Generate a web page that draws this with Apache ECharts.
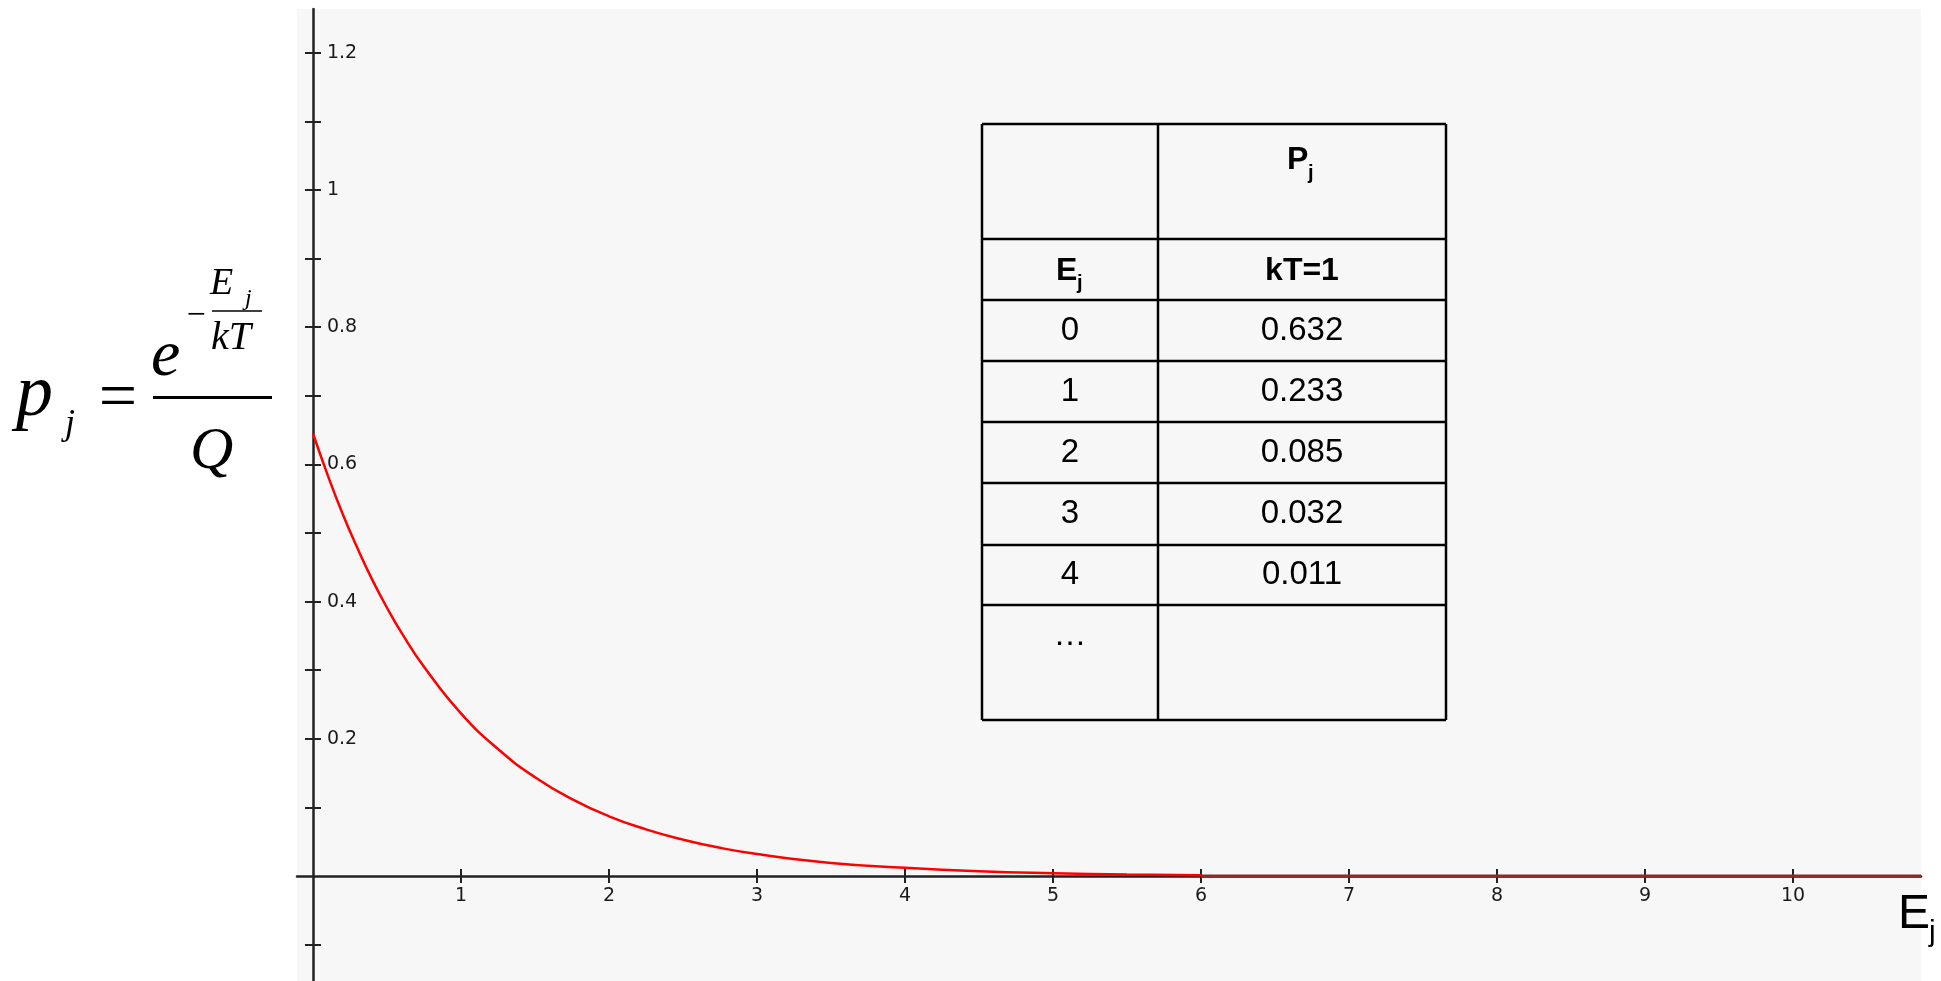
<!DOCTYPE html>
<html><head><meta charset="utf-8">
<script src="https://cdn.jsdelivr.net/npm/echarts@6/dist/echarts.min.js"></script>
<style>html,body{margin:0;padding:0;background:#fff}#c{width:1941px;height:981px}</style>
</head><body><div id="c"></div>
<script>
// ---- data ----
const curveE = [0, 0.1, 0.2, 0.3, 0.4, 0.5, 0.6, 0.75, 1, 1.25, 1.5, 1.75, 2, 2.25, 2.5, 2.75, 3, 3.5, 4, 4.5, 5, 5.5, 6];
const curveP = [0.645, 0.584, 0.528, 0.478, 0.432, 0.391, 0.354, 0.305, 0.237, 0.185, 0.144, 0.112, 0.087, 0.068, 0.053, 0.041, 0.032, 0.019, 0.012, 0.007, 0.004, 0.002, 0.001];
const tailE = [6, 10.865];
const tailP = [0, 0];
const xTickValues = [1, 2, 3, 4, 5, 6, 7, 8, 9, 10];
const xLabelValues = [1, 2, 3, 4, 5, 6, 7, 8, 9, 10];
const yTickValues = [-0.1, 0.1, 0.2, 0.3, 0.4, 0.5, 0.6, 0.7, 0.8, 0.9, 1, 1.1, 1.2];
const yLabelValues = [0.2, 0.4, 0.6, 0.8, 1, 1.2];
const tableHeaderP = 'P';
const tableHeaderSub = 'j';
const tableHeaderE = 'E';
const tableHeaderKT = 'kT=1';
const tableEnergies = ['0', '1', '2', '3', '4', '…'];
const tableProbabilities = ['0.632', '0.233', '0.085', '0.032', '0.011', ''];
const axisNameMain = 'E';
const axisNameSub = 'j';

// ---- layout ----
const CW = 1941, CH = 981;
const X_MIN = -0.108, X_MAX = 10.865, Y_MIN = -0.1531, Y_MAX = 1.2638;
const GRID_L = 297, GRID_R = 20, GRID_T = 9, GRID_B = 0;
const GW = CW - GRID_L - GRID_R, GH = CH - GRID_T - GRID_B;
const zeroX = GRID_L + (0 - X_MIN) / (X_MAX - X_MIN) * GW;
const zeroY = GRID_T + (Y_MAX - 0) / (Y_MAX - Y_MIN) * GH;

const tblLeft = 982, tblMid = 1158, tblRight = 1446;
const rowLines = [124, 239, 300, 361, 422, 483, 545, 605, 720];
const serif = 'Liberation Serif';
const sans = 'Liberation Sans';

const chart = echarts.init(document.getElementById('c'));

function txt(x, y, text, opt) {
  return {
    type: 'text', x: x, y: y, z: 10,
    style: Object.assign({
      text: text, fill: '#000', fontFamily: sans, fontSize: 32,
      textAlign: 'left', textVerticalAlign: 'middle', verticalAlign: 'middle'
    }, opt)
  };
}
function ln(x1, y1, x2, y2, w) {
  return { type: 'line', z: 10, shape: { x1: x1, y1: y1, x2: x2, y2: y2 }, style: { stroke: '#000', lineWidth: w } };
}

const graphics = [];
// table grid lines
rowLines.forEach(function (y) { graphics.push(ln(tblLeft, y, tblRight, y, 2.5)); });
graphics.push(ln(tblLeft, rowLines[0], tblLeft, rowLines[rowLines.length - 1], 2.5));
graphics.push(ln(tblMid, rowLines[0], tblMid, rowLines[rowLines.length - 1], 2.5));
graphics.push(ln(tblRight, rowLines[0], tblRight, rowLines[rowLines.length - 1], 2.5));
// table header
graphics.push(txt(1287, 160, tableHeaderP, { fontWeight: 'bold', fontSize: 32 }));
graphics.push(txt(1308, 173, tableHeaderSub, { fontWeight: 'bold', fontSize: 20 }));
graphics.push(txt(1056, 271, tableHeaderE, { fontWeight: 'bold', fontSize: 32 }));
graphics.push(txt(1077, 283, tableHeaderSub, { fontWeight: 'bold', fontSize: 20 }));
graphics.push(txt((tblMid + tblRight) / 2, 271, tableHeaderKT, { fontWeight: 'bold', fontSize: 32, textAlign: 'center' }));
// table body
tableEnergies.forEach(function (e, i) {
  const top = rowLines[i + 2], bot = rowLines[i + 3];
  const last = i === tableEnergies.length - 1;
  const cy = last ? 636 : (top + bot) / 2;
  graphics.push(txt((tblLeft + tblMid) / 2, cy, e, { fontSize: 33, textAlign: 'center' }));
  if (tableProbabilities[i]) graphics.push(txt((tblMid + tblRight) / 2, cy, tableProbabilities[i], { fontSize: 33, textAlign: 'center' }));
});
// formula  p_j = e^(-E_j/kT) / Q
const it = { fontFamily: serif, fontStyle: 'italic' };
graphics.push(txt(16, 396, 'p', Object.assign({ fontSize: 74 }, it)));
graphics.push(txt(65, 425, 'j', Object.assign({ fontSize: 36 }, it)));
graphics.push(txt(118, 400, '=', { fontFamily: serif, fontSize: 68, textAlign: 'center' }));
graphics.push(ln(153, 397.5, 272, 397.5, 3));
graphics.push(txt(151, 358, 'e', Object.assign({ fontSize: 66 }, it)));
graphics.push(txt(196, 316, '−', { fontFamily: serif, fontSize: 34, textAlign: 'center' }));
graphics.push(ln(212, 311, 262, 311, 1.5));
graphics.push(txt(210, 284, 'E', Object.assign({ fontSize: 38 }, it)));
graphics.push(txt(245, 299, 'j', Object.assign({ fontSize: 24 }, it)));
graphics.push(txt(211, 338, 'kT', Object.assign({ fontSize: 40 }, it)));
graphics.push(txt(190, 452, 'Q', Object.assign({ fontSize: 60 }, it)));
// axis title E_j at the right end of the horizontal axis
graphics.push(txt(1898, 915, axisNameMain, { fontSize: 48 }));
graphics.push(txt(1929, 933, axisNameSub, { fontSize: 30 }));

const axisLineStyle = { color: '#222', width: 2.5 };
const tickStyle = { color: '#222', width: 2 };
const labelStyle = { color: '#1a1a1a', fontSize: 19, fontFamily: 'DejaVu Sans' };

const option = {
  backgroundColor: '#fff',
  animation: false,
  grid: { left: GRID_L, right: GRID_R, top: GRID_T, bottom: GRID_B, show: true, backgroundColor: '#f7f7f7', borderWidth: 0,
          containLabel: false, outerBoundsMode: 'none' },
  xAxis: [
    { type: 'value', position: 'bottom', min: X_MIN, max: X_MAX, offset: zeroY - (CH - GRID_B),
      axisLine: { show: true, onZero: false, lineStyle: axisLineStyle },
      axisTick: { show: true, customValues: xTickValues, length: 7, lineStyle: tickStyle },
      axisLabel: Object.assign({ show: true, customValues: xLabelValues, margin: 11 }, labelStyle),
      splitLine: { show: false } },
    { type: 'value', position: 'top', min: X_MIN, max: X_MAX, offset: GRID_T - zeroY,
      axisLine: { show: false, onZero: false },
      axisTick: { show: true, customValues: xTickValues, length: 7, lineStyle: tickStyle },
      axisLabel: { show: false },
      splitLine: { show: false } }
  ],
  yAxis: [
    { type: 'value', position: 'left', min: Y_MIN, max: Y_MAX, offset: GRID_L - zeroX,
      axisLine: { show: true, onZero: false, lineStyle: axisLineStyle },
      axisTick: { show: true, customValues: yTickValues, length: 8, lineStyle: tickStyle },
      axisLabel: { show: false },
      splitLine: { show: false } },
    { type: 'value', position: 'right', min: Y_MIN, max: Y_MAX, offset: zeroX - (CW - GRID_R),
      axisLine: { show: false, onZero: false },
      axisTick: { show: true, customValues: yTickValues, length: 8, lineStyle: tickStyle },
      axisLabel: Object.assign({ show: true, customValues: yLabelValues, margin: 14, formatter: function (v) { return String(+v.toFixed(2)); } }, labelStyle),
      splitLine: { show: false } }
  ],
  series: [
    { name: 'kT=1', type: 'line', xAxisIndex: 0, yAxisIndex: 0, showSymbol: false, smooth: true, z: 5,
      data: curveE.map(function (e, i) { return [e, curveP[i]]; }),
      lineStyle: { color: '#ff0000', width: 2.5 } },
    { name: 'tail', type: 'line', xAxisIndex: 0, yAxisIndex: 0, showSymbol: false, z: 5,
      data: tailE.map(function (e, i) { return [e, tailP[i]]; }),
      lineStyle: { color: '#8a2a2a', width: 3 } }
  ],
  graphic: graphics
};
chart.setOption(option);
</script>
</body></html>
